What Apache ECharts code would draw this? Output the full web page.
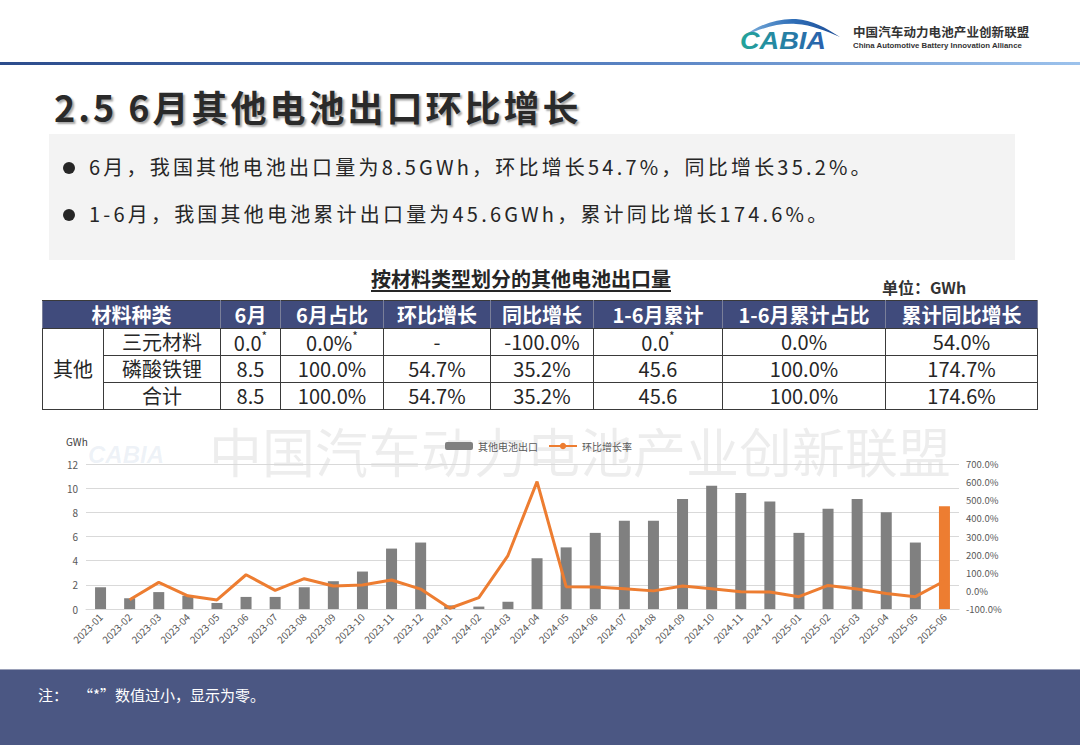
<!DOCTYPE html>
<html><head><meta charset="utf-8">
<script src="https://cdn.jsdelivr.net/npm/echarts@6/dist/echarts.min.js"></script>
<style>
html,body{margin:0;padding:0;width:1080px;height:745px;overflow:hidden;background:#fff;font-family:"Noto Sans CJK SC","Noto Sans",sans-serif;}
.abs{position:absolute;}
#topline{left:0;top:62px;width:1080px;height:3px;background:linear-gradient(to right,#2c4c8c,#5a84c4 60%,#9cc2ec);}
#orgcn{left:853px;top:24px;font-size:12.5px;line-height:15px;font-weight:bold;color:#333;white-space:nowrap;letter-spacing:0.1px;}
#orgen{left:853px;top:41px;font-family:"Liberation Sans",Arial,sans-serif;font-size:7.8px;line-height:9px;font-weight:bold;color:#333;white-space:nowrap;}
#title{left:54px;top:80px;font-size:36px;font-weight:bold;color:#2a2a2a;letter-spacing:3px;white-space:nowrap;text-shadow:2px 2px 2px rgba(0,0,0,0.35);}
#box{left:49px;top:134px;width:966px;height:126px;background:#f3f3f3;}
.bullet{position:absolute;left:63px;font-size:20px;color:#262626;letter-spacing:3.2px;white-space:nowrap;}
.bullet .dot{display:inline-block;width:12px;height:12px;border-radius:50%;background:#262626;margin-right:14px;vertical-align:middle;position:relative;top:-2px;}
#ttitle{left:371px;top:264px;font-size:20px;font-weight:bold;color:#262626;text-decoration:underline;text-underline-offset:3px;white-space:nowrap;}
#unit{left:882px;top:275px;font-size:16px;font-weight:bold;color:#333;white-space:nowrap;}
#tbl{left:42px;top:300px;border-collapse:collapse;table-layout:fixed;font-size:20px;color:#262626;}
#tbl td,#tbl th{border:1.5px solid #3a3a3a;text-align:center;padding:0;white-space:nowrap;line-height:1;}
#tbl th{background:#404b7c;color:#fff;font-weight:bold;height:27px;border-color:#3a3a3a #7a7f99;}
#tbl td{height:26px;}
#tbl sup{font-size:12px;position:relative;top:-2px;}
#chart{left:0;top:413px;width:1080px;height:256px;}
#footer{left:0;top:669px;width:1080px;height:76px;background:#4b5783;border-top:1px solid #9aa0b8;}
#note{left:38px;top:684px;font-size:15px;color:#fff;white-space:nowrap;}
</style></head><body>

<svg class="abs" style="left:736px;top:12px" width="110" height="44" viewBox="0 0 110 44">
  <defs>
    <linearGradient id="g1" x1="0" x2="1" y1="0" y2="0">
      <stop offset="0" stop-color="#22a59a"/><stop offset="1" stop-color="#2a5fae"/>
    </linearGradient>
    <linearGradient id="g2" x1="0" x2="1" y1="0" y2="0">
      <stop offset="0" stop-color="#7fb0dc"/><stop offset="0.5" stop-color="#2f6fb8"/><stop offset="1" stop-color="#1d4c96"/>
    </linearGradient>
  </defs>
  <path d="M8,24 C24,12 42,6 60,7 C76,8 90,16 104,25 C90,19 76,13 60,12 C42,11 26,16 8,24 Z" fill="url(#g2)"/>
  <text x="4" y="37" font-family="Liberation Sans,Arial,sans-serif" font-size="23" font-weight="bold" font-style="italic" fill="url(#g1)" textLength="86" lengthAdjust="spacingAndGlyphs">CABIA</text>
</svg>
<div id="orgcn" class="abs">中国汽车动力电池产业创新联盟</div>
<div id="orgen" class="abs">China Automotive Battery Innovation Alliance</div>
<div id="topline" class="abs"></div>

<div id="title" class="abs">2.5 6月其他电池出口环比增长</div>
<div id="box" class="abs"></div>
<div class="bullet" style="top:152px"><span class="dot"></span>6月，我国其他电池出口量为8.5GWh，环比增长54.7%，同比增长35.2%。</div>
<div class="bullet" style="top:199px"><span class="dot"></span>1-6月，我国其他电池累计出口量为45.6GWh，累计同比增长174.6%。</div>

<div id="ttitle" class="abs">按材料类型划分的其他电池出口量</div>
<div id="unit" class="abs">单位：GWh</div>

<table id="tbl" class="abs">
  <colgroup>
    <col style="width:61px"><col style="width:117px"><col style="width:60px"><col style="width:103px"><col style="width:107px"><col style="width:103px"><col style="width:129px"><col style="width:163px"><col style="width:152px">
  </colgroup>
  <tr><th colspan="2">材料种类</th><th>6月</th><th>6月占比</th><th>环比增长</th><th>同比增长</th><th>1-6月累计</th><th>1-6月累计占比</th><th>累计同比增长</th></tr>
  <tr><td rowspan="3">其他</td><td>三元材料</td><td>0.0<sup>*</sup></td><td>0.0%<sup>*</sup></td><td>-</td><td>-100.0%</td><td>0.0<sup>*</sup></td><td>0.0%</td><td>54.0%</td></tr>
  <tr><td>磷酸铁锂</td><td>8.5</td><td>100.0%</td><td>54.7%</td><td>35.2%</td><td>45.6</td><td>100.0%</td><td>174.7%</td></tr>
  <tr><td>合计</td><td>8.5</td><td>100.0%</td><td>54.7%</td><td>35.2%</td><td>45.6</td><td>100.0%</td><td>174.6%</td></tr>
</table>

<div id="chart" class="abs"></div>

<div id="footer" class="abs"></div>
<div id="note" class="abs">注：&nbsp;&nbsp;&nbsp;“*”数值过小，显示为零。</div>

<script>
const categories = ['2023-01','2023-02','2023-03','2023-04','2023-05','2023-06','2023-07','2023-08','2023-09','2023-10','2023-11','2023-12',
  '2024-01','2024-02','2024-03','2024-04','2024-05','2024-06','2024-07','2024-08','2024-09','2024-10','2024-11','2024-12',
  '2025-01','2025-02','2025-03','2025-04','2025-05','2025-06'];
const exportVolume = [1.8,0.9,1.4,1.1,0.5,1.0,1.0,1.8,2.3,3.1,5.0,5.5,
  0.3,0.2,0.6,4.2,5.1,6.3,7.3,7.3,9.1,10.2,9.6,8.9,
  6.3,8.3,9.1,8.0,5.5,8.5];
const momGrowth = [null,-49,47,-27,-50,89,3,67,27,32,60,10,
  -96,-37,195,603,23,21,12,0,27,12,-5,-6,
  -32,30,10,-14,-32,54.7];
const seriesNames = ['其他电池出口','环比增长率'];
const watermarkText = '中国汽车动力电池产业创新联盟';

const FONT = '"Noto Sans CJK SC","Noto Sans",sans-serif';
const lastIdx = exportVolume.length - 1;
const chart = echarts.init(document.getElementById('chart'), null, {renderer:'svg'});
chart.setOption({
  animation:false,
  textStyle:{fontFamily:FONT},
  graphic:[
    {type:'text', left:209, top:10, z:-10, silent:true,
      style:{text:watermarkText, fontSize:53, lineHeight:53, fill:'rgba(0,0,0,0.07)', fontFamily:FONT}},
    {type:'text', left:88, top:29, z:-10, silent:true,
      style:{text:'CABIA', fontSize:24, fontStyle:'italic', fontWeight:'bold', fill:'rgba(150,175,210,0.16)', fontFamily:'"Liberation Sans",Arial,sans-serif'}},
    {type:'text', left:66, top:23, silent:true,
      style:{text:'GWh', fontSize:10, fill:'#404040', fontFamily:FONT}}
  ],
  legend:{left:440, top:23, itemWidth:28, itemHeight:8, itemGap:10,
    textStyle:{fontSize:10, color:'#595959'}, data:seriesNames},
  grid:{left:86, right:121, top:51, height:145},
  xAxis:{type:'category', data:categories,
    axisLine:{lineStyle:{color:'#d9d9d9'}}, axisTick:{show:false},
    axisLabel:{rotate:45, fontSize:10, color:'#595959', interval:0, margin:6}},
  yAxis:[
    {type:'value', min:0, max:12, interval:2,
      axisLine:{show:false}, axisTick:{show:false},
      splitLine:{lineStyle:{color:'#d9d9d9'}},
      axisLabel:{fontSize:10, color:'#595959', margin:8}},
    {type:'value', min:-100, max:700, interval:100, position:'right',
      axisLine:{show:false}, axisTick:{show:false}, splitLine:{show:false},
      axisLabel:{fontSize:9.5, color:'#595959', margin:7, formatter:v=>v.toFixed(1)+'%'}}
  ],
  series:[
    {name:seriesNames[0], type:'bar', barWidth:11,
      itemStyle:{color:'#808080'},
      data:exportVolume.map((v,i)=> i===lastIdx ? {value:v, itemStyle:{color:'#ED7D31'}} : v)},
    {name:seriesNames[1], type:'line', yAxisIndex:1, data:momGrowth, symbol:'none',
      lineStyle:{color:'#ED7D31', width:3}, itemStyle:{color:'#ED7D31'}}
  ]
});
</script>
</body></html>
